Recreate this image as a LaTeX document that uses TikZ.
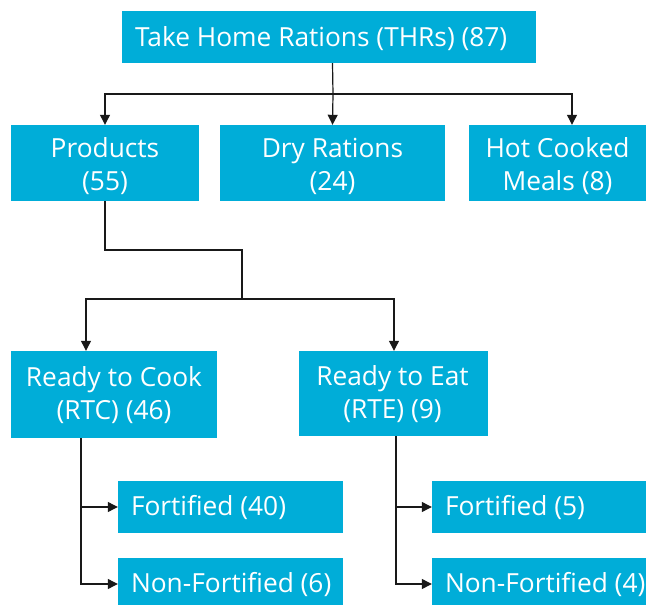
\documentclass[tikz,border=0pt]{standalone}
\usepackage{fontspec}
\setmainfont{Open Sans}
\usetikzlibrary{arrows.meta,calc}
\definecolor{boxblue}{RGB}{0,173,216}
\begin{document}
\begin{tikzpicture}[x=1pt,y=-1pt,
  box/.style={fill=boxblue,inner sep=0pt},
  txt/.style={text=white,inner sep=0pt,font=\fontsize{26.3}{33}\selectfont,align=center},
  arr/.style={draw=black!90,line width=1.2pt,-{Triangle[width=10pt,length=10pt]}},
  ln/.style={draw=black!90,line width=1.2pt}]
\useasboundingbox (0,0) rectangle (646,605);
\fill[white] (0,0) rectangle (646,605);
% boxes
\node[box,minimum width=414pt,minimum height=52pt] (top) at (329,37) {};
\node[box,minimum width=188pt,minimum height=76pt] (prod) at (105,163) {};
\node[box,minimum width=225pt,minimum height=76pt] (dry) at (332.5,163) {};
\node[box,minimum width=177pt,minimum height=76pt] (hot) at (557.5,163) {};
\node[box,minimum width=206pt,minimum height=87pt] (rtc) at (114,394.5) {};
\node[box,minimum width=189pt,minimum height=85pt] (rte) at (393.5,393.5) {};
\node[box,minimum width=225pt,minimum height=52pt] (f40) at (230.5,507) {};
\node[box,minimum width=225pt,minimum height=52pt] (nf6) at (230.5,584) {};
\node[box,minimum width=268pt,minimum height=52pt] (f5) at (566,507) {};
\node[box,minimum width=268pt,minimum height=52pt] (nf4) at (566,584) {};
% texts
\node[txt,anchor=west] (topT) at ([xshift=13pt,yshift=-2pt]top.west) {Take Home Rations (THRs) (87)};
\node[txt] (prodT) at ([yshift=-3pt]prod.center) {Products\\(55)};
\node[txt] (dryT) at ([yshift=-3pt]dry.center) {Dry Rations\\(24)};
\node[txt] (hotT) at ([yshift=-3pt]hot.center) {Hot Cooked\\Meals (8)};
\node[txt] (rtcT) at ([yshift=-1pt]rtc.center) {Ready to Cook\\(RTC) (46)};
\node[txt] (rteT) at ([xshift=-1pt,yshift=-1pt]rte.center) {Ready to Eat\\(RTE) (9)};
\node[txt,anchor=west] (f40T) at ([xshift=13pt,yshift=-1pt]f40.west) {Fortified (40)};
\node[txt,anchor=west] (nf6T) at ([xshift=13pt,yshift=-1pt]nf6.west) {Non-Fortified (6)};
\node[txt,anchor=west] (f5T) at ([xshift=13pt,yshift=-1pt]f5.west) {Fortified (5)};
\node[txt,anchor=west] (nf4T) at ([xshift=13pt,yshift=-1pt]nf4.west) {Non-Fortified (4)};
% top connectors
\coordinate (j1) at (333,94);
\draw[ln] (dry.north |- top.south) -- (j1);
\draw[arr] (j1) -- (dry.north);
\draw[arr] (j1) -| (prod.north);
\draw[arr] (j1) -| ([xshift=14.5pt]hot.north);
% products to rtc/rte
\coordinate (j2) at (242,250);
\coordinate (j3) at (242,299);
\draw[ln] (prod.south) |- (j2) -- (j3);
\draw[arr] (j3) -| ([xshift=-28pt]rtc.north);
\draw[arr] (j3) -| ([xshift=0.5pt]rte.north);
% leaves
\draw[arr] ([xshift=-33pt]rtc.south) |- (f40.west);
\draw[arr] ([xshift=-33pt]rtc.south) |- (nf6.west);
\draw[arr] ([xshift=2.5pt]rte.south) |- (f5.west);
\draw[arr] ([xshift=2.5pt]rte.south) |- (nf4.west);
\end{tikzpicture}
\end{document}
